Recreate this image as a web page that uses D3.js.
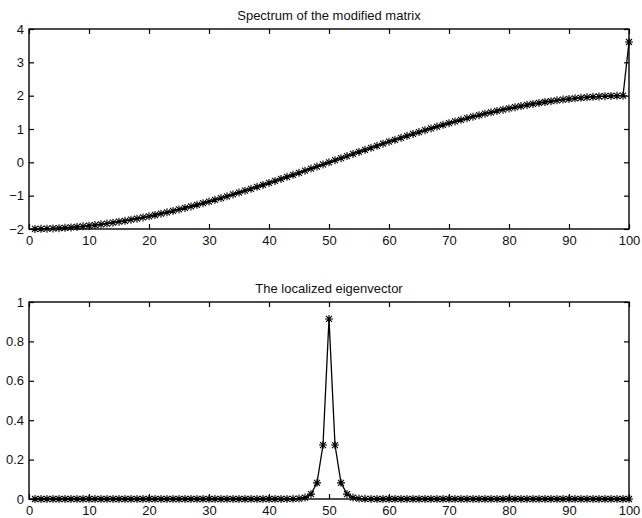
<!DOCTYPE html>
<html>
<head>
<meta charset="utf-8">
<script src="https://cdn.jsdelivr.net/npm/d3@7"></script>
<style>
  body { margin: 0; background: #fff; }
  svg text { font-family: "Liberation Sans", Arial, sans-serif; }
</style>
</head>
<body>
<div id="chart"></div>
<script>
// top panel: sorted eigenvalues of the modified matrix (index 1..100)
var spectrum = [
  -1.999, -1.996, -1.991, -1.984, -1.975, -1.965, -1.952, -1.937, -1.921, -1.902,
  -1.882, -1.860, -1.836, -1.810, -1.782, -1.753, -1.721, -1.689, -1.654, -1.618,
  -1.580, -1.541, -1.500, -1.458, -1.414, -1.369, -1.323, -1.275, -1.226, -1.176,
  -1.124, -1.072, -1.018, -0.964, -0.908, -0.852, -0.794, -0.736, -0.677, -0.618,
  -0.558, -0.497, -0.436, -0.375, -0.313, -0.251, -0.188, -0.126, -0.063, 0.000,
  0.063, 0.126, 0.188, 0.251, 0.313, 0.375, 0.436, 0.497, 0.558, 0.618,
  0.677, 0.736, 0.794, 0.852, 0.908, 0.964, 1.018, 1.072, 1.124, 1.176,
  1.226, 1.275, 1.323, 1.369, 1.414, 1.458, 1.500, 1.541, 1.580, 1.618,
  1.654, 1.689, 1.721, 1.753, 1.782, 1.810, 1.836, 1.860, 1.882, 1.902,
  1.921, 1.937, 1.952, 1.965, 1.975, 1.984, 1.991, 1.996, 1.999, 3.610
];

// bottom panel: eigenvector entries, only the ones near index 50 are non zero
var eigvec = [
  0, 0, 0, 0, 0, 0, 0, 0, 0, 0,
  0, 0, 0, 0, 0, 0, 0, 0, 0, 0,
  0, 0, 0, 0, 0, 0, 0, 0, 0, 0,
  0, 0, 0, 0, 0, 0, 0, 0, 0, 0,
  0, 0, 0.0002, 0.0007, 0.0022, 0.0074, 0.0247, 0.082, 0.274, 0.914,
  0.274, 0.082, 0.0247, 0.0074, 0.0022, 0.0007, 0.0002, 0, 0, 0,
  0, 0, 0, 0, 0, 0, 0, 0, 0, 0,
  0, 0, 0, 0, 0, 0, 0, 0, 0, 0,
  0, 0, 0, 0, 0, 0, 0, 0, 0, 0,
  0, 0, 0, 0, 0, 0, 0, 0, 0, 0
];

var xTicks = [0, 10, 20, 30, 40, 50, 60, 70, 80, 90, 100];
var yTicksTop = [-2, -1, 0, 1, 2, 3, 4];
var yTicksBottom = [0, 0.2, 0.4, 0.6, 0.8, 1];
var titles = ["Spectrum of the modified matrix", "The localized eigenvector"];

var W = 642, H = 518;
var svg = d3.select("#chart").append("svg")
  .attr("width", W).attr("height", H);

var star = "M-4,0H4M0,-4V4M-3,-3L3,3M-3,3L3,-3";
var fmt = d3.format("~g");

function drawPanel(values, yDomain, yTicks, top, bottom, title) {
  var x = d3.scaleLinear().domain([0, 100]).range([29, 629]);
  var y = d3.scaleLinear().domain(yDomain).range([bottom, top]);
  var g = svg.append("g");

  var data = values.map(function (v, i) { return {k: i + 1, v: v}; });

  g.append("rect")
    .attr("x", x(0)).attr("y", top)
    .attr("width", x(100) - x(0)).attr("height", bottom - top)
    .attr("fill", "none").attr("stroke", "#000").attr("stroke-width", 1.4);

  function draw(axis, translate) {
    var a = g.append("g").attr("transform", translate).call(axis);
    a.select(".domain").remove();
    a.selectAll("line").attr("stroke", "#000").attr("stroke-width", 1.2);
    a.selectAll("text").attr("fill", "#111").style("font-size", "13px");
    return a;
  }

  draw(d3.axisBottom(x).tickValues(xTicks).tickSize(-5).tickPadding(7).tickFormat(fmt),
    "translate(0," + bottom + ")");
  draw(d3.axisTop(x).tickValues(xTicks).tickSize(-5).tickFormat(""),
    "translate(0," + top + ")");
  draw(d3.axisLeft(y).tickValues(yTicks).tickSize(-5).tickPadding(5).tickFormat(fmt),
    "translate(" + x(0) + ",0)");
  draw(d3.axisRight(y).tickValues(yTicks).tickSize(-5).tickFormat(""),
    "translate(" + x(100) + ",0)");

  var line = d3.line()
    .x(function (d) { return x(d.k); })
    .y(function (d) { return y(d.v); });

  g.append("path")
    .datum(data)
    .attr("d", line)
    .attr("fill", "none")
    .attr("stroke", "#000")
    .attr("stroke-width", 1.3);

  g.selectAll(".pt")
    .data(data)
    .join("path")
    .attr("class", "pt")
    .attr("d", star)
    .attr("transform", function (d) { return "translate(" + x(d.k) + "," + y(d.v) + ")"; })
    .attr("fill", "none")
    .attr("stroke", "#000")
    .attr("stroke-width", 1.1);

  g.append("text")
    .attr("x", (x(0) + x(100)) / 2)
    .attr("y", top - 9)
    .attr("text-anchor", "middle")
    .attr("fill", "#111")
    .style("font-size", "13px")
    .text(title);
}

drawPanel(spectrum, [-2, 4], yTicksTop, 29, 229, titles[0]);
drawPanel(eigvec, [0, 1], yTicksBottom, 302, 499, titles[1]);
</script>
</body>
</html>
